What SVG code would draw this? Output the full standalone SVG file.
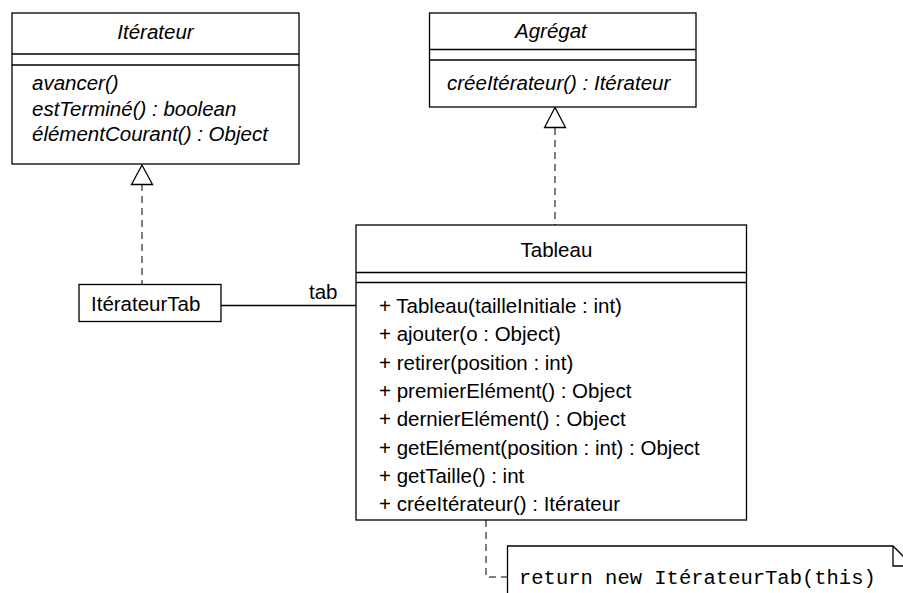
<svg xmlns="http://www.w3.org/2000/svg" width="903" height="593" viewBox="0 0 903 593">
<style>
  .box { fill: #fff; stroke: #000; stroke-width: 1.3; }
  .sep { stroke: #000; stroke-width: 1.3; }
  .t { font-family: "Liberation Sans", Arial, sans-serif; font-size: 20.5px; fill: #000; }
  .i { font-style: italic; }
  .mono { font-family: "Liberation Mono", "Courier New", monospace; font-size: 20.5px; fill: #000; }
  .dash { fill: none; stroke: #555; stroke-width: 1.5; stroke-dasharray: 7 5; }
  .solid { fill: none; stroke: #000; stroke-width: 1.3; }
  .tri { fill: #fff; stroke: #000; stroke-width: 1.3; }
</style>
<rect width="903" height="593" fill="#fff"/>

<g id="connectors">
  <line class="dash" x1="142" y1="184" x2="142" y2="284"/>
  <polygon class="tri" points="142,165 131.5,184.5 152.5,184.5"/>
  <line class="dash" x1="555" y1="128" x2="555" y2="225"/>
  <polygon class="tri" points="555,107.5 544.5,127.5 565.5,127.5"/>
  <line class="solid" x1="221" y1="305.5" x2="356" y2="305.5"/>
  <text class="t" x="309" y="299">tab</text>
  <polyline class="dash" points="486,520 486,577 512,577"/>
</g>

<g id="iterateur">
  <rect class="box" x="12" y="13" width="287" height="151"/>
  <line class="sep" x1="12" y1="54" x2="299" y2="54"/>
  <line class="sep" x1="12" y1="65" x2="299" y2="65"/>
  <text class="t i" x="155.5" y="39" text-anchor="middle">Itérateur</text>
  <text class="t i" x="32" y="90">avancer()</text>
  <text class="t i" x="32" y="115.5">estTerminé() : boolean</text>
  <text class="t i" x="32" y="141">élémentCourant() : Object</text>
</g>

<g id="agregat">
  <rect class="box" x="429.5" y="13" width="266.5" height="94"/>
  <line class="sep" x1="429.5" y1="49.5" x2="696" y2="49.5"/>
  <line class="sep" x1="429.5" y1="60" x2="696" y2="60"/>
  <text class="t i" x="515" y="38">Agrégat</text>
  <text class="t i" x="447" y="90">créeItérateur() : Itérateur</text>
</g>

<g id="iterateurTab">
  <rect class="box" x="79" y="284.5" width="142" height="37"/>
  <text class="t" x="91" y="311">ItérateurTab</text>
</g>

<g id="tableau">
  <rect class="box" x="356" y="225" width="390.5" height="295"/>
  <line class="sep" x1="356" y1="272.5" x2="746.5" y2="272.5"/>
  <line class="sep" x1="356" y1="282.5" x2="746.5" y2="282.5"/>
  <text class="t" x="520.5" y="256.5">Tableau</text>
  <text class="t" x="379" y="313">+ Tableau(tailleInitiale : int)</text>
  <text class="t" x="379" y="341.3">+ ajouter(o : Object)</text>
  <text class="t" x="379" y="369.6">+ retirer(position : int)</text>
  <text class="t" x="379" y="397.9">+ premierElément() : Object</text>
  <text class="t" x="379" y="426.2">+ dernierElément() : Object</text>
  <text class="t" x="379" y="454.5">+ getElément(position : int) : Object</text>
  <text class="t" x="379" y="482.8">+ getTaille() : int</text>
  <text class="t" x="379" y="511">+ créeItérateur() : Itérateur</text>
</g>

<g id="note">
  <path class="solid" d="M507.5,600 L507.5,546 L893,546 L913,566 L913,600" fill="#fff"/>
  <polyline class="solid" points="893,546 893,566 913,566"/>
  <text class="mono" x="519" y="584">return new ItérateurTab(this)</text>
</g>
</svg>
